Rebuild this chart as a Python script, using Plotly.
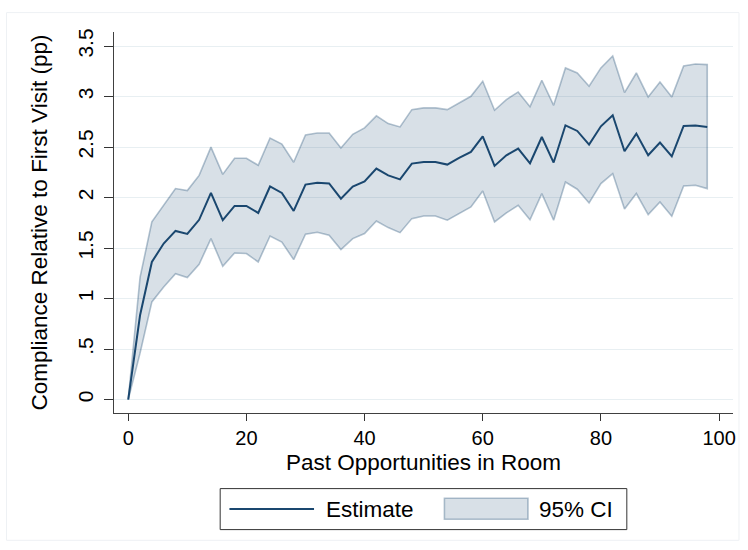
import plotly.graph_objects as go

# ---- data ----
past_opps = list(range(0, 100, 2))
estimate = [0, 0.835, 1.363, 1.545, 1.67, 1.64, 1.78, 2.046, 1.776, 1.917, 1.917, 1.848, 2.11, 2.046, 1.868, 2.129, 2.148, 2.14,
            1.99, 2.11, 2.16, 2.287, 2.22, 2.18, 2.337, 2.353, 2.353, 2.327, 2.393, 2.452, 2.607, 2.314, 2.419, 2.485, 2.34,
            2.60, 2.347, 2.716, 2.66, 2.525, 2.706, 2.815, 2.459, 2.634, 2.419, 2.545, 2.409, 2.71, 2.713, 2.70]
ci_upper = [0, 1.21, 1.76, 1.92, 2.09, 2.07, 2.22, 2.50, 2.23, 2.39, 2.39, 2.32, 2.59, 2.53, 2.35, 2.62, 2.64, 2.64,
            2.49, 2.627, 2.69, 2.809, 2.733, 2.70, 2.871, 2.888, 2.888, 2.871, 2.94, 3.003, 3.152, 2.865, 2.97, 3.046, 2.90,
            3.162, 2.914, 3.284, 3.234, 3.102, 3.284, 3.403, 3.04, 3.234, 2.997, 3.145, 2.997, 3.304, 3.323, 3.317]
ci_lower = [0, 0.46, 0.967, 1.115, 1.247, 1.208, 1.34, 1.594, 1.32, 1.452, 1.446, 1.363, 1.62, 1.56, 1.386, 1.637, 1.657, 1.627,
            1.485, 1.594, 1.644, 1.769, 1.703, 1.653, 1.792, 1.818, 1.818, 1.776, 1.842, 1.908, 2.066, 1.759, 1.848, 1.924, 1.78,
            2.04, 1.776, 2.155, 2.083, 1.947, 2.139, 2.238, 1.888, 2.04, 1.832, 1.957, 1.815, 2.115, 2.122, 2.089]

x_tickvals = [0, 20, 40, 60, 80, 100]
y_tickvals = [0, 0.5, 1, 1.5, 2, 2.5, 3, 3.5]
y_ticktext = ["0", ".5", "1", "1.5", "2", "2.5", "3", "3.5"]

NAVY = "#1a476f"
FILL = "rgba(26,71,111,0.17)"
EDGE = "rgba(26,71,111,0.32)"
FONT = "Liberation Sans, Arial, Helvetica, sans-serif"

fig = go.Figure()
fig.add_trace(go.Scatter(
    x=past_opps + past_opps[::-1],
    y=ci_upper + ci_lower[::-1],
    fill="toself", fillcolor=FILL,
    line=dict(color=EDGE, width=1.6),
    mode="lines", name="95% CI", showlegend=False, hoverinfo="skip"))
fig.add_trace(go.Scatter(
    x=past_opps, y=estimate, mode="lines", name="Estimate",
    line=dict(color=NAVY, width=2), showlegend=False))

# plot area in pixels: x 114..736, y 31.7..412.7
W, H = 748, 550
L, R, T, B = 114, 736, 31.7, 412.7
pw, ph = R - L, B - T


def px(xp):
    return (xp - L) / pw


def py(yp):
    return (B - yp) / ph


shapes = []
# outer faint frame
shapes.append(dict(type="rect", xref="paper", yref="paper",
                   x0=px(6), x1=px(742), y0=py(12.3), y1=py(540),
                   line=dict(color="#eef1f4", width=1), fillcolor="rgba(0,0,0,0)", layer="below"))
# legend box
shapes.append(dict(type="rect", xref="paper", yref="paper",
                   x0=px(220.7), x1=px(629.3), y0=py(488.3), y1=py(529.3),
                   line=dict(color="#333333", width=1), fillcolor="white"))
# legend line sample
shapes.append(dict(type="line", xref="paper", yref="paper",
                   x0=px(230), x1=px(315), y0=py(508.8), y1=py(508.8),
                   line=dict(color=NAVY, width=2)))
# legend CI swatch
shapes.append(dict(type="rect", xref="paper", yref="paper",
                   x0=px(446), x1=px(530), y0=py(498), y1=py(519),
                   line=dict(color=EDGE, width=1.6), fillcolor=FILL))

annotations = [
    dict(text="Estimate", xref="paper", yref="paper", x=px(325), y=py(509.5),
         xanchor="left", yanchor="middle", showarrow=False,
         font=dict(family=FONT, size=22.5, color="black")),
    dict(text="95% CI", xref="paper", yref="paper", x=px(539), y=py(509.5),
         xanchor="left", yanchor="middle", showarrow=False,
         font=dict(family=FONT, size=22.5, color="black")),
]

fig.update_layout(
    width=W, height=H,
    margin=dict(l=L, r=W - R, t=T, b=H - B),
    paper_bgcolor="white", plot_bgcolor="white",
    font=dict(family=FONT, color="black", size=20),
    shapes=shapes, annotations=annotations,
    showlegend=False,
)
fig.update_xaxes(
    range=[(L - 128.3) / 5.937, (R - 128.3) / 5.937],
    tickvals=x_tickvals, ticks="outside", ticklen=7, tickcolor="#333333", tickwidth=1.2,
    ticklabelstandoff=0,
    showline=True, linecolor="#404040", linewidth=1.3,
    showgrid=False, zeroline=False,
    tickfont=dict(size=20),
    title=dict(text="Past Opportunities in Room", font=dict(size=22.5), standoff=6),
)
fig.update_yaxes(
    range=[(399.3 - B) / 101.0, (399.3 - T) / 101.0],
    tickvals=y_tickvals, ticktext=y_ticktext, tickangle=-90,
    ticks="outside", ticklen=9, tickcolor="#333333", tickwidth=1.2,
    ticklabelstandoff=2,
    showline=True, linecolor="#404040", linewidth=1.3,
    showgrid=True, gridcolor="#e8eff2", gridwidth=1.3, zeroline=False,
    tickfont=dict(size=21),
    title=dict(text="Compliance Relative to First Visit (pp)", font=dict(size=22.5), standoff=20),
)

fig.write_html("out.html", config={"displayModeBar": False},
               post_script="document.body.style.margin='0';")
